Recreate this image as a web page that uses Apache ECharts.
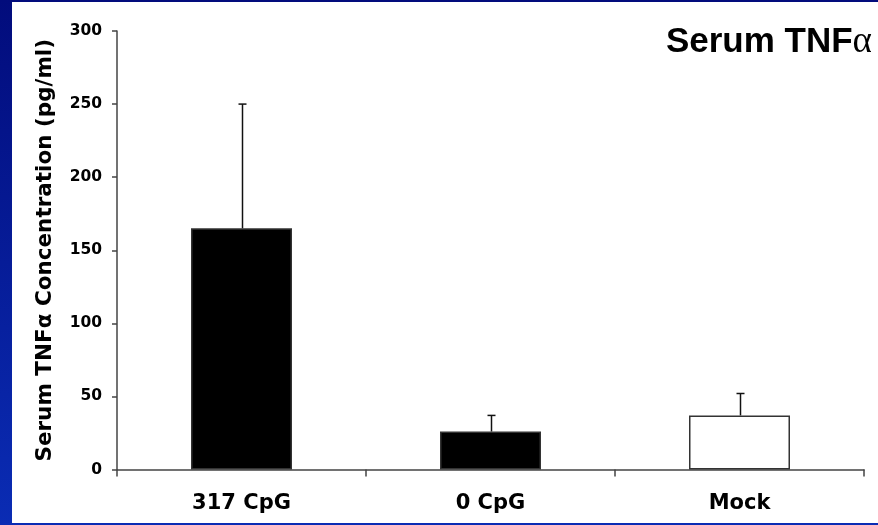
<!DOCTYPE html>
<html>
<head>
<meta charset="utf-8">
<script src="https://cdn.jsdelivr.net/npm/echarts@6/dist/echarts.min.js"></script>
<style>
html,body{margin:0;padding:0;background:#fff;}
#chart{width:878px;height:525px;}
</style>
</head>
<body>
<div id="chart"></div>
<script>
const categories = ['317 CpG', '0 CpG', 'Mock'];
const values = [165, 26, 37];
const errors = [85, 11, 15];
const barFills = ['#000000', '#000000', '#ffffff'];
const yTicks = [0, 50, 100, 150, 200, 250, 300];
const chartTitle = 'Serum TNF';
const yAxisTitle = 'Serum TNFα Concentration (pg/ml)';

const chart = echarts.init(document.getElementById('chart'), null, {renderer: 'canvas'});
const W = 878, H = 525;

const option = {
  animation: false,
  backgroundColor: '#ffffff',
  graphic: [
    {type: 'rect', z: -10, silent: true, shape: {x: 0, y: 0, width: W, height: H},
     style: {fill: new echarts.graphic.LinearGradient(0, 0, 0, 1, [
       {offset: 0, color: '#020c7c'}, {offset: 1, color: '#0a2cb4'}])}},
    {type: 'rect', z: -9, silent: true, shape: {x: 12, y: 2, width: W - 12, height: H - 4},
     style: {fill: '#ffffff'}},
    {type: 'text', right: 6, top: 24, z: 10,
     style: {
       text: '{a|' + chartTitle + '}{b|α}',
       rich: {
         a: {fontFamily: 'Liberation Sans', fontWeight: 'bold', fontSize: 35, fill: '#000'},
         b: {fontFamily: 'Liberation Serif', fontWeight: 'normal', fontSize: 37, fill: '#000'}
       }
     }}
  ],
  grid: {left: 117, right: 14, top: 31, bottom: 55.5, containLabel: false},
  xAxis: {
    type: 'category',
    data: categories,
    axisLine: {lineStyle: {color: '#444', width: 1.5}},
    axisTick: {show: true, length: 7, alignWithLabel: false, lineStyle: {color: '#444', width: 1.5}},
    axisLabel: {fontFamily: 'DejaVu Sans', fontWeight: 'bold', fontSize: 21, color: '#000', margin: 24}
  },
  yAxis: {
    type: 'value',
    min: yTicks[0], max: yTicks[yTicks.length - 1], interval: 50,
    name: yAxisTitle,
    nameLocation: 'middle',
    nameRotate: 90,
    nameGap: 61,
    nameTextStyle: {fontFamily: 'DejaVu Sans', fontWeight: 'bold', fontSize: 21.5, color: '#000'},
    axisLine: {show: true, lineStyle: {color: '#444', width: 1.5}},
    axisTick: {show: true, length: 5, lineStyle: {color: '#444', width: 1.5}},
    splitLine: {show: false},
    axisLabel: {fontFamily: 'DejaVu Sans', fontWeight: 'bold', fontSize: 15.5, color: '#000', margin: 15}
  },
  series: [
    {
      type: 'bar',
      barWidth: 101,
      data: values.map((v, i) => ({value: v, itemStyle: {color: barFills[i], borderColor: '#333', borderWidth: 1.5}})),
      z: 2
    },
    {
      type: 'custom',
      z: 3,
      data: values.map((v, i) => [i, v, v + errors[i]]),
      renderItem: function (params, api) {
        const base = api.coord([api.value(0), api.value(1)]);
        const top = api.coord([api.value(0), api.value(2)]);
        const x = Math.round(base[0]) + 0.5;
        const cap = 4;
        return {
          type: 'group',
          children: [
            {type: 'line', shape: {x1: x, y1: base[1], x2: x, y2: top[1]}, style: {stroke: '#111', lineWidth: 1.5}},
            {type: 'line', shape: {x1: x - cap, y1: top[1], x2: x + cap, y2: top[1]}, style: {stroke: '#111', lineWidth: 1.5}}
          ]
        };
      }
    }
  ]
};
chart.setOption(option);
</script>
</body>
</html>
